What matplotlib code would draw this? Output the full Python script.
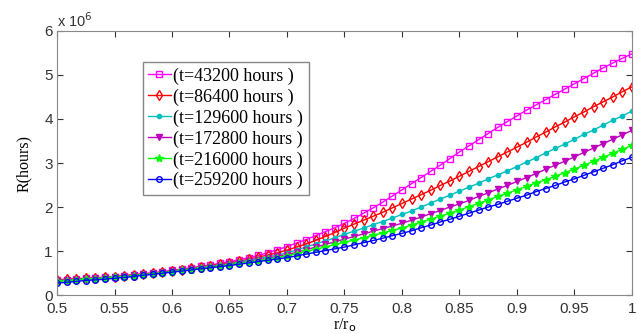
import matplotlib
matplotlib.use("Agg")
import matplotlib.pyplot as plt
import numpy as np

# r/r_o samples: 61 points, step 1/120
r = np.linspace(0.5, 1.0, 61)

# R values in units of 1e6 hours
R_43200 = [0.34, 0.35, 0.36, 0.38, 0.39, 0.405,
           0.42, 0.44, 0.46, 0.48, 0.505, 0.53,
           0.56, 0.59, 0.62, 0.65, 0.68, 0.72,
           0.76, 0.80, 0.85, 0.90, 0.96, 1.03,
           1.10, 1.18, 1.26, 1.35, 1.44, 1.53,
           1.63, 1.74, 1.86, 1.98, 2.11, 2.25,
           2.39, 2.53, 2.67, 2.81, 2.95, 3.10,
           3.25, 3.39, 3.53, 3.67, 3.81, 3.94,
           4.07, 4.20, 4.32, 4.44, 4.56, 4.68,
           4.80, 4.92, 5.04, 5.16, 5.27, 5.38, 5.48]
R_86400 = [0.35, 0.36, 0.37, 0.38, 0.39, 0.405,
           0.42, 0.44, 0.46, 0.48, 0.50, 0.525,
           0.55, 0.58, 0.61, 0.64, 0.67, 0.70,
           0.73, 0.77, 0.81, 0.86, 0.91, 0.96,
           1.02, 1.09, 1.16, 1.24, 1.33, 1.42,
           1.52, 1.61, 1.70, 1.79, 1.88, 1.98,
           2.08, 2.18, 2.28, 2.38, 2.49, 2.59,
           2.70, 2.81, 2.92, 3.03, 3.14, 3.25,
           3.36, 3.47, 3.59, 3.70, 3.82, 3.93,
           4.05, 4.16, 4.28, 4.39, 4.50, 4.62, 4.73]
R_129600 = [0.33, 0.34, 0.355, 0.37, 0.38, 0.395,
            0.41, 0.43, 0.45, 0.47, 0.49, 0.515,
            0.54, 0.57, 0.60, 0.63, 0.66, 0.68,
            0.71, 0.75, 0.79, 0.83, 0.87, 0.91,
            0.96, 1.02, 1.09, 1.16, 1.23, 1.30,
            1.38, 1.45, 1.52, 1.60, 1.67, 1.75,
            1.83, 1.91, 2.00, 2.09, 2.18, 2.27,
            2.36, 2.45, 2.54, 2.64, 2.73, 2.82,
            2.92, 3.02, 3.12, 3.23, 3.33, 3.43,
            3.54, 3.65, 3.75, 3.86, 3.97, 4.07, 4.18]
R_172800 = [0.32, 0.335, 0.35, 0.365, 0.38, 0.395,
            0.41, 0.43, 0.45, 0.47, 0.49, 0.515,
            0.54, 0.57, 0.59, 0.62, 0.645, 0.67,
            0.70, 0.73, 0.77, 0.80, 0.84, 0.88,
            0.92, 0.97, 1.03, 1.09, 1.15, 1.21,
            1.27, 1.33, 1.39, 1.45, 1.51, 1.57,
            1.63, 1.70, 1.77, 1.85, 1.92, 2.00,
            2.07, 2.15, 2.24, 2.32, 2.41, 2.49,
            2.58, 2.67, 2.76, 2.86, 2.95, 3.04,
            3.14, 3.24, 3.34, 3.44, 3.54, 3.64, 3.74]
R_216000 = [0.31, 0.325, 0.34, 0.355, 0.37, 0.385,
            0.40, 0.42, 0.44, 0.46, 0.48, 0.505,
            0.53, 0.56, 0.58, 0.61, 0.635, 0.66,
            0.69, 0.72, 0.75, 0.78, 0.82, 0.85,
            0.89, 0.94, 0.99, 1.04, 1.09, 1.15,
            1.20, 1.25, 1.30, 1.36, 1.41, 1.47,
            1.52, 1.59, 1.66, 1.72, 1.79, 1.86,
            1.93, 2.01, 2.08, 2.16, 2.24, 2.31,
            2.39, 2.47, 2.55, 2.62, 2.70, 2.78,
            2.86, 2.95, 3.04, 3.13, 3.22, 3.31, 3.40]
R_259200 = [0.27, 0.29, 0.31, 0.33, 0.345, 0.36,
            0.38, 0.40, 0.42, 0.45, 0.47, 0.495,
            0.52, 0.545, 0.57, 0.595, 0.62, 0.645,
            0.67, 0.70, 0.73, 0.76, 0.79, 0.82,
            0.85, 0.89, 0.93, 0.97, 1.01, 1.05,
            1.09, 1.14, 1.19, 1.24, 1.29, 1.35,
            1.40, 1.46, 1.53, 1.59, 1.66, 1.72,
            1.79, 1.86, 1.93, 2.00, 2.06, 2.13,
            2.20, 2.27, 2.35, 2.42, 2.49, 2.57,
            2.64, 2.72, 2.80, 2.88, 2.96, 3.05, 3.13]

labels = ["(t=43200 hours )", "(t=86400 hours )", "(t=129600 hours )",
          "(t=172800 hours )", "(t=216000 hours )", "(t=259200 hours )"]
xticks = [0.5, 0.55, 0.6, 0.65, 0.7, 0.75, 0.8, 0.85, 0.9, 0.95, 1]
xticklabels = ["0.5", "0.55", "0.6", "0.65", "0.7", "0.75", "0.8", "0.85", "0.9", "0.95", "1"]
yticks = [0, 1, 2, 3, 4, 5, 6]

series = [R_43200, R_86400, R_129600, R_172800, R_216000, R_259200]
styles = [
    dict(color="#ff00ff", marker="s", ms=4, mfc="none", mew=1.0),
    dict(color="#ff0000", marker="d", ms=5, mfc="none", mew=1.0),
    dict(color="#00bfbf", marker=".", ms=6),
    dict(color="#bf00bf", marker="v", ms=5),
    dict(color="#00ff00", marker="*", ms=6),
    dict(color="#0000ff", marker="o", ms=4, mfc="none", mew=1.0),
]

plt.rcParams["font.family"] = ["Liberation Sans", "DejaVu Sans"]

fig = plt.figure(figsize=(6.37, 3.33), dpi=100)
ax = fig.add_axes([0.0895, 0.114, 0.9025, 0.793])

for vals, lab, st in zip(series, labels, styles):
    ax.plot(r, vals, lw=1.0, label=lab, **st)

ax.set_xlim(0.5, 1)
ax.set_ylim(0, 6)
ax.set_xticks(xticks)
ax.set_xticklabels(xticklabels)
ax.set_yticks(yticks)
ax.tick_params(direction="in", top=True, right=True, labelsize=11,
               colors="#333333", length=4)
ax.tick_params(axis="x", pad=5)
ax.tick_params(axis="y", pad=3)
for sp in ax.spines.values():
    sp.set_color("#888888")

ax.text(0.0, 1.005, "x 10$^6$", transform=ax.transAxes, fontsize=10.5,
        color="#333333", ha="left", va="bottom")

serif = ["Liberation Serif", "DejaVu Serif"]
ax.set_ylabel("R(hours)", family=serif, fontsize=11.5, labelpad=9)
ax.set_xlabel("r/r$_\\mathrm{o}$", family=serif, fontsize=11.5, labelpad=0)

leg = ax.legend(loc="upper left", bbox_to_anchor=(0.149, 0.882),
                prop={"family": serif, "size": 13}, handlelength=1.25,
                handletextpad=0.15, labelspacing=0.2, borderpad=0.3,
                borderaxespad=0, fancybox=False, framealpha=1)
leg.get_frame().set_edgecolor("#888888")
leg.get_frame().set_linewidth(1.0)

fig.savefig("out.png", dpi=100)
